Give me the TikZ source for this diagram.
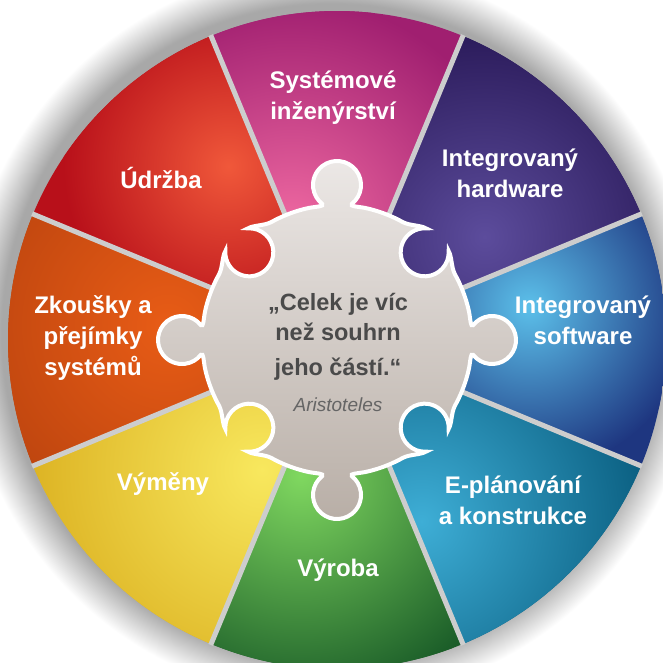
\documentclass[tikz,border=0pt]{standalone}
\usepackage{fontspec}
\setmainfont{Liberation Sans}
\usepackage{tikz}
\tikzset{every picture/.style={line width=0.75pt}}

\definecolor{sysLight}{HTML}{F06AA2}
\definecolor{sysDark}{HTML}{A01F70}
\definecolor{udrLight}{HTML}{F0583A}
\definecolor{udrDark}{HTML}{B8101A}
\definecolor{zkLight}{HTML}{E85C16}
\definecolor{zkDark}{HTML}{B8420E}
\definecolor{vymLight}{HTML}{F8E85E}
\definecolor{vymDark}{HTML}{DDB424}
\definecolor{vyrLight}{HTML}{80D860}
\definecolor{vyrDark}{HTML}{1A5C28}
\definecolor{epLight}{HTML}{3EAED6}
\definecolor{epDark}{HTML}{0A5E80}
\definecolor{swLight}{HTML}{5CC0EA}
\definecolor{swDark}{HTML}{1E3680}
\definecolor{hwLight}{HTML}{5C4C9C}
\definecolor{hwDark}{HTML}{2C1C5C}
\definecolor{quoteGrey}{HTML}{4A4A4A}

\pgfdeclareradialshading{halo}{\pgfpointorigin}{color(0bp)=(black!34); color(22.4bp)=(black!34); color(25bp)=(white); color(50bp)=(white)}

\tikzset{
  lbl/.style={text=white, font=\bfseries\fontsize{24}{31}\selectfont, align=center, inner sep=0pt},
  quote/.style={text=quoteGrey, font=\bfseries\fontsize{23.5}{30}\selectfont, align=center, inner sep=0pt},
  divider/.style={draw={rgb,255:red,205;green,205;blue,205}, line width=5pt},
  puzzle/.style={draw=white, line width=4pt, top color={rgb,255:red,236;green,232;blue,230}, bottom color={rgb,255:red,184;green,174;blue,166}}
}

% one coloured sector: mid angle, light colour, dark colour, highlight angle, highlight radius, spread
\newcommand{\petal}[6]{%
  \begin{scope}
    \clip (0,0) -- (#1-22.5:329) arc[start angle=#1-22.5, end angle=#1+22.5, radius=329] -- cycle;
    \fill[#3] (0,0) circle (330);
    \shade[inner color=#2, outer color=#3] (#4:#5) circle (#6);
  \end{scope}}

% puzzle edge, pointing up: a tab out / a socket in
\newcommand{\knobseg}{arc[start angle=67.5, end angle=78, radius=135]
  .. controls (23.2,133.1) and (11.6,133.6) .. (14.78,136.09)
  arc[start angle=-52, end angle=232, radius=24]
  .. controls (-11.6,133.6) and (-23.2,133.1) .. (102:135)
  arc[start angle=102, end angle=112.5, radius=135]}
\newcommand{\notchseg}{arc[start angle=67.5, end angle=74, radius=135]
  .. controls (29.5,131.98) and (22,140.5) .. (16.06,141.84)
  arc[start angle=48, end angle=-228, radius=24]
  .. controls (-22,140.5) and (-29.5,131.98) .. (106:135)
  arc[start angle=106, end angle=112.5, radius=135]}

\begin{document}
\begin{tikzpicture}[x=1pt,y=1pt,yscale=-1]
\useasboundingbox (0,0) rectangle (663,663);
\fill[white] (0,0) rectangle (663,663);

\begin{scope}[shift={(337,340)},yscale=-1]
%Shadow
\shade[shading=halo] (-6,7) circle (368);
%Sectors
\petal{90}{sysLight}{sysDark}{112}{120}{230}
\petal{135}{udrLight}{udrDark}{122}{205}{165}
\petal{180}{zkLight}{zkDark}{175}{170}{230}
\petal{225}{vymLight}{vymDark}{240}{150}{230}
\petal{270}{vyrLight}{vyrDark}{255}{140}{230}
\petal{315}{epLight}{epDark}{295}{200}{230}
\petal{0}{swLight}{swDark}{10}{195}{165}
\petal{45}{hwLight}{hwDark}{35}{180}{200}
%Dividers
\foreach \a in {22.5,67.5,...,337.5}
  \draw[divider] (0,0) -- (\a:330);
%Puzzle centre
\draw[puzzle] (-22.5:135) foreach \a in {0,90,180,270} {{[rotate=\a-90] \knobseg} {[rotate=\a-45] \notchseg}} -- cycle;
\end{scope}

% Text Node
\node[lbl] (sys) at (333,98) {Systémové\\inženýrství};
\node[lbl] (hw) at (510,173) {Integrovaný\\hardware};
\node[lbl] (sw) at (583,320) {Integrovaný\\software};
\node[lbl] (ep) at (513,500) {E-plánování\\a konstrukce};
\node[lbl] (vyr) at (338,570) {Výroba};
\node[lbl] (vym) at (163,484) {Výměny};
\node[lbl] (zk) at (93,338) {Zkoušky a\\přejímky\\systémů};
\node[lbl] (udr) at (161,178) {Údržba};
\node[quote] (quote) at (338,337) {„Celek je víc\\než souhrn\\[5pt]jeho částí.“};
\node[text=quoteGrey!85, font=\itshape\fontsize{19}{22}\selectfont, inner sep=0pt] (author) at (338,405) {Aristoteles};
\end{tikzpicture}
\end{document}
